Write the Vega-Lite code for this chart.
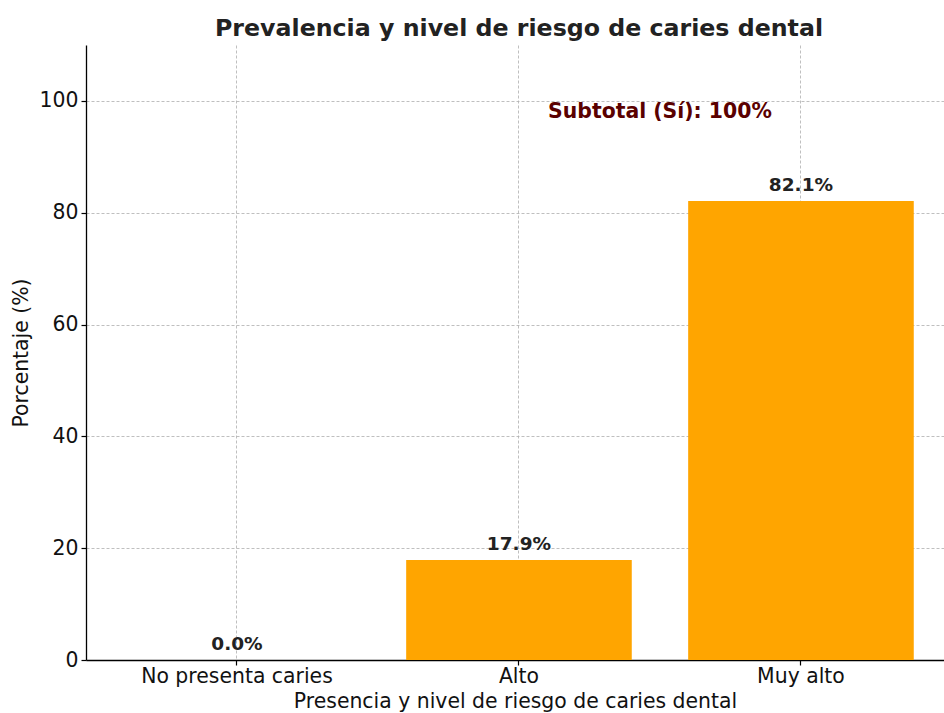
{
  "$schema": "https://vega.github.io/schema/vega-lite/v6.json",
  "autosize": {"type": "none"},
  "padding": {"left": 86, "top": 45, "right": 0, "bottom": 53},
  "width": 858,
  "height": 615,
  "background": "white",
  "title": {
    "text": "Prevalencia y nivel de riesgo de caries dental",
    "font": "DejaVu Sans",
    "fontSize": 23.7,
    "fontWeight": "bold",
    "color": "#222222",
    "anchor": "middle",
    "offset": 4,
    "dx": 4
  },
  "config": {
    "view": {"stroke": null},
    "axis": {
      "labelFont": "DejaVu Sans",
      "titleFont": "DejaVu Sans",
      "labelFontSize": 20.4,
      "titleFontSize": 20.4,
      "titleFontWeight": "normal",
      "labelColor": "#111111",
      "titleColor": "#111111",
      "labelLimit": 0,
      "domainColor": "#000000",
      "domainWidth": 1.3,
      "tickColor": "#000000",
      "tickSize": 5,
      "tickWidth": 1.2,
      "labelPadding": 3,
      "grid": true,
      "gridColor": "#b0b0b0",
      "gridDash": [3, 2],
      "gridWidth": 0.9,
      "gridOpacity": 0.9,
      "zindex": 1
    }
  },
  "datasets": {
    "bars": [
      {"cat": "No presenta caries", "pct": 0.0, "label": "0.0%"},
      {"cat": "Alto", "pct": 17.9, "label": "17.9%"},
      {"cat": "Muy alto", "pct": 82.1, "label": "82.1%"}
    ],
    "note": [
      {"cat": "Alto", "pct": 97, "label": "Subtotal (Sí): 100%"}
    ]
  },
  "layer": [
    {
      "data": {"name": "bars"},
      "mark": {"type": "bar", "color": "#FFA500"},
      "encoding": {
        "x": {
          "field": "cat",
          "type": "nominal",
          "sort": ["No presenta caries", "Alto", "Muy alto"],
          "scale": {"paddingInner": 0.2, "paddingOuter": 0.1213, "align": 0.558},
          "axis": {
            "title": "Presencia y nivel de riesgo de caries dental",
            "labelAngle": 0,
            "tickBand": "center",
            "labelPadding": 1,
            "titlePadding": 5
          }
        },
        "y": {
          "field": "pct",
          "type": "quantitative",
          "scale": {"domain": [0, 110], "nice": false},
          "axis": {
            "title": "Porcentaje (%)",
            "values": [0, 20, 40, 60, 80, 100],
            "titlePadding": 8
          }
        }
      }
    },
    {
      "data": {"name": "bars"},
      "mark": {
        "type": "text",
        "font": "DejaVu Sans",
        "fontSize": 18.5,
        "fontWeight": "bold",
        "color": "#222222",
        "baseline": "alphabetic",
        "dy": -10
      },
      "encoding": {
        "x": {"field": "cat", "type": "nominal", "sort": ["No presenta caries", "Alto", "Muy alto"]},
        "y": {"field": "pct", "type": "quantitative"},
        "text": {"field": "label"}
      }
    },
    {
      "data": {"name": "note"},
      "mark": {
        "type": "text",
        "font": "DejaVu Sans",
        "fontSize": 20.4,
        "fontWeight": "bold",
        "color": "#5a0000",
        "baseline": "alphabetic",
        "align": "center"
      },
      "encoding": {
        "x": {"field": "cat", "type": "nominal", "sort": ["No presenta caries", "Alto", "Muy alto"], "bandPosition": 1.125},
        "y": {"field": "pct", "type": "quantitative"},
        "text": {"field": "label"}
      }
    }
  ]
}
